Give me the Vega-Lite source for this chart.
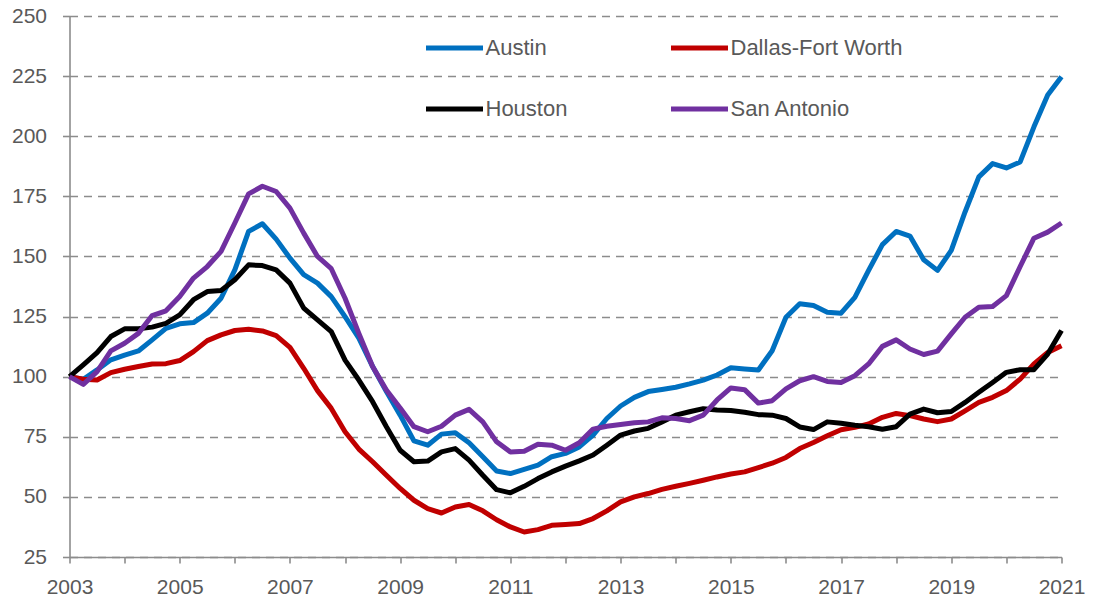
{
  "$schema": "https://vega.github.io/schema/vega-lite/v6.json",
  "width": 992,
  "height": 541,
  "autosize": {"type": "none"},
  "padding": {"left": 69.5, "top": 16, "right": 31.5, "bottom": 45},
  "background": "white",
  "config": {
    "view": {"stroke": null},
    "font": "Liberation Sans"
  },
  "data": {
    "values": [
      {"t": 2003, "Austin": 100, "Dallas-Fort Worth": 100, "Houston": 100, "San Antonio": 100},
      {"t": 2003.25, "Austin": 98.9, "Dallas-Fort Worth": 98.9, "Houston": 104.9, "San Antonio": 96.8},
      {"t": 2003.5, "Austin": 102.8, "Dallas-Fort Worth": 98.6, "Houston": 110, "San Antonio": 102.1},
      {"t": 2003.75, "Austin": 107, "Dallas-Fort Worth": 101.7, "Houston": 116.7, "San Antonio": 110.7},
      {"t": 2004, "Austin": 109, "Dallas-Fort Worth": 103.1, "Houston": 119.9, "San Antonio": 113.9},
      {"t": 2004.25, "Austin": 110.7, "Dallas-Fort Worth": 104.2, "Houston": 119.9, "San Antonio": 118},
      {"t": 2004.5, "Austin": 115.3, "Dallas-Fort Worth": 105.3, "Houston": 120.6, "San Antonio": 125.4},
      {"t": 2004.75, "Austin": 120.1, "Dallas-Fort Worth": 105.4, "Houston": 122.2, "San Antonio": 127.4},
      {"t": 2005, "Austin": 122, "Dallas-Fort Worth": 106.7, "Houston": 125.7, "San Antonio": 133.3},
      {"t": 2005.25, "Austin": 122.5, "Dallas-Fort Worth": 110.4, "Houston": 132, "San Antonio": 141},
      {"t": 2005.5, "Austin": 126.4, "Dallas-Fort Worth": 115, "Houston": 135.4, "San Antonio": 145.8},
      {"t": 2005.75, "Austin": 132.6, "Dallas-Fort Worth": 117.4, "Houston": 135.8, "San Antonio": 152.1},
      {"t": 2006, "Austin": 144.4, "Dallas-Fort Worth": 119.2, "Houston": 140.3, "San Antonio": 163.9},
      {"t": 2006.25, "Austin": 160.4, "Dallas-Fort Worth": 119.7, "Houston": 146.5, "San Antonio": 176},
      {"t": 2006.5, "Austin": 163.6, "Dallas-Fort Worth": 119, "Houston": 146.2, "San Antonio": 179.2},
      {"t": 2006.75, "Austin": 157.2, "Dallas-Fort Worth": 117.1, "Houston": 144.4, "San Antonio": 177},
      {"t": 2007, "Austin": 149.3, "Dallas-Fort Worth": 112.2, "Houston": 138.9, "San Antonio": 170.1},
      {"t": 2007.25, "Austin": 142.4, "Dallas-Fort Worth": 103.5, "Houston": 128.5, "San Antonio": 159.7},
      {"t": 2007.5, "Austin": 138.9, "Dallas-Fort Worth": 94.2, "Houston": 123.6, "San Antonio": 150},
      {"t": 2007.75, "Austin": 133.3, "Dallas-Fort Worth": 86.8, "Houston": 118.7, "San Antonio": 144.9},
      {"t": 2008, "Austin": 125, "Dallas-Fort Worth": 77.1, "Houston": 106.9, "San Antonio": 132.6},
      {"t": 2008.25, "Austin": 116, "Dallas-Fort Worth": 69.9, "Houston": 98.6, "San Antonio": 118},
      {"t": 2008.5, "Austin": 104.2, "Dallas-Fort Worth": 64.6, "Houston": 89.6, "San Antonio": 104.2},
      {"t": 2008.75, "Austin": 93.8, "Dallas-Fort Worth": 59, "Houston": 79.2, "San Antonio": 94.4},
      {"t": 2009, "Austin": 84, "Dallas-Fort Worth": 53.5, "Houston": 69.4, "San Antonio": 87},
      {"t": 2009.25, "Austin": 73.3, "Dallas-Fort Worth": 48.6, "Houston": 64.6, "San Antonio": 79.2},
      {"t": 2009.5, "Austin": 71.5, "Dallas-Fort Worth": 45.1, "Houston": 64.9, "San Antonio": 77.1},
      {"t": 2009.75, "Austin": 76.1, "Dallas-Fort Worth": 43.3, "Houston": 68.7, "San Antonio": 79.4},
      {"t": 2010, "Austin": 76.7, "Dallas-Fort Worth": 45.8, "Houston": 70.1, "San Antonio": 84},
      {"t": 2010.25, "Austin": 72.5, "Dallas-Fort Worth": 46.8, "Houston": 65.3, "San Antonio": 86.4},
      {"t": 2010.5, "Austin": 66.7, "Dallas-Fort Worth": 44.2, "Houston": 59, "San Antonio": 81.2},
      {"t": 2010.75, "Austin": 60.8, "Dallas-Fort Worth": 40.5, "Houston": 53, "San Antonio": 72.9},
      {"t": 2011, "Austin": 59.7, "Dallas-Fort Worth": 37.5, "Houston": 51.7, "San Antonio": 68.7},
      {"t": 2011.25, "Austin": 61.4, "Dallas-Fort Worth": 35.4, "Houston": 54.4, "San Antonio": 69},
      {"t": 2011.5, "Austin": 63.2, "Dallas-Fort Worth": 36.4, "Houston": 57.6, "San Antonio": 71.9},
      {"t": 2011.75, "Austin": 66.7, "Dallas-Fort Worth": 38.2, "Houston": 60.4, "San Antonio": 71.5},
      {"t": 2012, "Austin": 68.1, "Dallas-Fort Worth": 38.5, "Houston": 62.8, "San Antonio": 69.4},
      {"t": 2012.25, "Austin": 70.8, "Dallas-Fort Worth": 38.9, "Houston": 65, "San Antonio": 72.5},
      {"t": 2012.5, "Austin": 75.7, "Dallas-Fort Worth": 41, "Houston": 67.4, "San Antonio": 78.2},
      {"t": 2012.75, "Austin": 82.6, "Dallas-Fort Worth": 44.2, "Houston": 71.5, "San Antonio": 79.4},
      {"t": 2013, "Austin": 87.8, "Dallas-Fort Worth": 47.9, "Houston": 75.7, "San Antonio": 80.1},
      {"t": 2013.25, "Austin": 91.4, "Dallas-Fort Worth": 50, "Houston": 77.4, "San Antonio": 80.8},
      {"t": 2013.5, "Austin": 93.8, "Dallas-Fort Worth": 51.4, "Houston": 78.5, "San Antonio": 81.2},
      {"t": 2013.75, "Austin": 94.7, "Dallas-Fort Worth": 53.1, "Houston": 81.2, "San Antonio": 82.9},
      {"t": 2014, "Austin": 95.6, "Dallas-Fort Worth": 54.4, "Houston": 84, "San Antonio": 82.6},
      {"t": 2014.25, "Austin": 97, "Dallas-Fort Worth": 55.6, "Houston": 85.4, "San Antonio": 81.7},
      {"t": 2014.5, "Austin": 98.6, "Dallas-Fort Worth": 56.9, "Houston": 86.7, "San Antonio": 84},
      {"t": 2014.75, "Austin": 100.7, "Dallas-Fort Worth": 58.3, "Houston": 86.1, "San Antonio": 90.3},
      {"t": 2015, "Austin": 103.7, "Dallas-Fort Worth": 59.5, "Houston": 85.9, "San Antonio": 95.3},
      {"t": 2015.25, "Austin": 103.2, "Dallas-Fort Worth": 60.4, "Houston": 85.2, "San Antonio": 94.6},
      {"t": 2015.5, "Austin": 102.8, "Dallas-Fort Worth": 62.2, "Houston": 84.2, "San Antonio": 89},
      {"t": 2015.75, "Austin": 110.8, "Dallas-Fort Worth": 64, "Houston": 84, "San Antonio": 90},
      {"t": 2016, "Austin": 124.7, "Dallas-Fort Worth": 66.4, "Houston": 82.6, "San Antonio": 94.9},
      {"t": 2016.25, "Austin": 130.3, "Dallas-Fort Worth": 70.1, "Houston": 79.1, "San Antonio": 98.3},
      {"t": 2016.5, "Austin": 129.6, "Dallas-Fort Worth": 72.6, "Houston": 78, "San Antonio": 100},
      {"t": 2016.75, "Austin": 126.8, "Dallas-Fort Worth": 75.4, "Houston": 81.2, "San Antonio": 98},
      {"t": 2017, "Austin": 126.4, "Dallas-Fort Worth": 77.9, "Houston": 80.6, "San Antonio": 97.6},
      {"t": 2017.25, "Austin": 133, "Dallas-Fort Worth": 78.9, "Houston": 79.8, "San Antonio": 100.4},
      {"t": 2017.5, "Austin": 144.2, "Dallas-Fort Worth": 80.3, "Houston": 79.2, "San Antonio": 105.3},
      {"t": 2017.75, "Austin": 154.9, "Dallas-Fort Worth": 83.1, "Houston": 78.1, "San Antonio": 112.6},
      {"t": 2018, "Austin": 160.4, "Dallas-Fort Worth": 84.7, "Houston": 79.2, "San Antonio": 115.3},
      {"t": 2018.25, "Austin": 158.5, "Dallas-Fort Worth": 83.8, "Houston": 84.4, "San Antonio": 111.5},
      {"t": 2018.5, "Austin": 148.6, "Dallas-Fort Worth": 82.4, "Houston": 86.5, "San Antonio": 109.2},
      {"t": 2018.75, "Austin": 144.2, "Dallas-Fort Worth": 81.3, "Houston": 85, "San Antonio": 110.6},
      {"t": 2019, "Austin": 152.5, "Dallas-Fort Worth": 82.4, "Houston": 85.5, "San Antonio": 117.8},
      {"t": 2019.25, "Austin": 168.5, "Dallas-Fort Worth": 85.8, "Houston": 89.3, "San Antonio": 124.7},
      {"t": 2019.5, "Austin": 183.1, "Dallas-Fort Worth": 89.3, "Houston": 93.5, "San Antonio": 128.9},
      {"t": 2019.75, "Austin": 188.6, "Dallas-Fort Worth": 91.4, "Houston": 97.6, "San Antonio": 129.2},
      {"t": 2020, "Austin": 186.8, "Dallas-Fort Worth": 94.2, "Houston": 101.8, "San Antonio": 133.7},
      {"t": 2020.25, "Austin": 189.3, "Dallas-Fort Worth": 99, "Houston": 102.9, "San Antonio": 145.8},
      {"t": 2020.5, "Austin": 203.9, "Dallas-Fort Worth": 105.3, "Houston": 102.9, "San Antonio": 157.6},
      {"t": 2020.75, "Austin": 217.1, "Dallas-Fort Worth": 110.1, "Houston": 109.4, "San Antonio": 160.1},
      {"t": 2021, "Austin": 224.7, "Dallas-Fort Worth": 112.9, "Houston": 119.2, "San Antonio": 163.9}
    ]
  },
  "transform": [
    {"fold": ["Austin", "Dallas-Fort Worth", "Houston", "San Antonio"], "as": ["city", "v"]}
  ],
  "mark": {"type": "line", "strokeWidth": 5, "strokeJoin": "round", "clip": false},
  "encoding": {
    "x": {
      "field": "t",
      "type": "quantitative",
      "scale": {"domain": [2003, 2021], "nice": false, "zero": false},
      "axis": {
        "title": null,
        "values": [2003, 2004, 2005, 2006, 2007, 2008, 2009, 2010, 2011, 2012, 2013, 2014, 2015, 2016, 2017, 2018, 2019, 2020, 2021],
        "format": "d",
        "labelExpr": "datum.value % 2 == 1 ? datum.label : ''",
        "labelOverlap": false,
        "labelFlush": false,
        "labelFont": "Liberation Sans",
        "labelFontSize": 21,
        "labelColor": "#595959",
        "grid": false,
        "domainColor": "#8c8c8c",
        "domainWidth": 1.6,
        "tickColor": "#8c8c8c",
        "tickWidth": 1.6,
        "tickSize": 6,
        "labelPadding": 13
      }
    },
    "y": {
      "field": "v",
      "type": "quantitative",
      "scale": {"domain": [25, 250], "nice": false, "zero": false},
      "axis": {
        "title": null,
        "values": [25, 50, 75, 100, 125, 150, 175, 200, 225, 250],
        "labelFont": "Liberation Sans",
        "labelFontSize": 21,
        "labelColor": "#595959",
        "grid": true,
        "gridColor": "#8c8c8c",
        "gridWidth": 1.6,
        "gridDash": [8, 6],
        "domainColor": "#8c8c8c",
        "domainWidth": 1.6,
        "tickColor": "#8c8c8c",
        "tickWidth": 1.6,
        "tickSize": 7,
        "labelPadding": 16
      }
    },
    "color": {
      "field": "city",
      "type": "nominal",
      "scale": {
        "domain": ["Austin", "Dallas-Fort Worth", "Houston", "San Antonio"],
        "range": ["#0070C0", "#C00000", "#000000", "#7030A0"]
      },
      "legend": {
        "title": null,
        "orient": "none",
        "legendX": 354,
        "legendY": 1,
        "direction": "horizontal",
        "columns": 2,
        "columnPadding": 93,
        "rowPadding": 19,
        "symbolType": "stroke",
        "symbolSize": 3249,
        "symbolStrokeWidth": 5,
        "labelFont": "Liberation Sans",
        "labelFontSize": 22,
        "labelColor": "#595959",
        "labelOffset": 0,
        "labelLimit": 400
      }
    }
  }
}
